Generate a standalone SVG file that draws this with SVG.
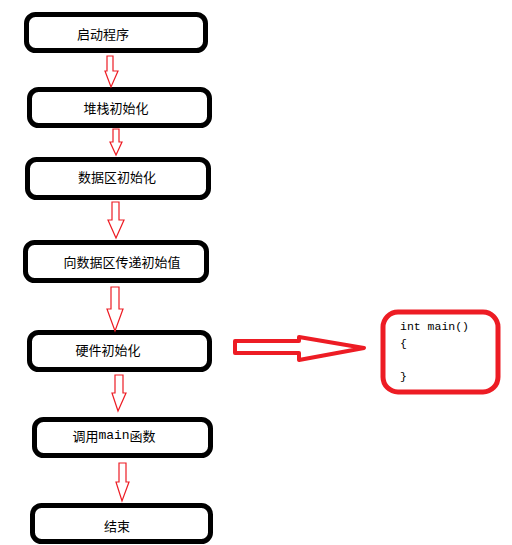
<svg xmlns="http://www.w3.org/2000/svg" width="512" height="545" viewBox="0 0 512 545">
<style>
.box{fill:#fff;stroke:#000;stroke-width:5}
.lbl{font-family:"Noto Sans CJK SC","Liberation Sans",sans-serif;font-size:13px;fill:#000;text-anchor:middle;dominant-baseline:central}
.mono{font-family:"Liberation Mono",monospace}
.arr{fill:#fff;stroke:#ED1C24;stroke-width:1.2;stroke-linejoin:miter}
.big{fill:#fff;stroke:#ED1C24;stroke-width:4;stroke-linejoin:round}
.code{font-family:"Liberation Mono",monospace;font-size:11.5px;fill:#000}
</style>
<rect width="512" height="545" fill="#fff"/>
<g id="n1"><rect class="box" x="26.5" y="14.5" width="179" height="36" rx="9"/><text class="lbl" x="103" y="33">启动程序</text></g>
<g id="n2"><rect class="box" x="29.5" y="89.5" width="180" height="36" rx="9"/><text class="lbl" x="116" y="107">堆栈初始化</text></g>
<g id="n3"><rect class="box" x="27.5" y="159.5" width="181" height="38" rx="9"/><text class="lbl" x="117" y="176">数据区初始化</text></g>
<g id="n4"><rect class="box" x="25.5" y="242.5" width="181" height="38" rx="9"/><text class="lbl" x="122" y="261">向数据区传递初始值</text></g>
<g id="n5"><rect class="box" x="29.5" y="332.5" width="180" height="37" rx="9"/><text class="lbl" x="108" y="349">硬件初始化</text></g>
<g id="n6"><rect class="box" x="34.5" y="419.5" width="176" height="36" rx="9"/><text class="lbl" x="114" y="435">调用<tspan class="mono">main</tspan>函数</text></g>
<g id="n7"><rect class="box" x="32.5" y="505.5" width="178" height="36" rx="9"/><text class="lbl" x="117" y="525">结束</text></g>
<g id="n8"><rect x="383" y="312" width="115" height="80" rx="15" fill="#fff" stroke="#ED1C24" stroke-width="5"/>
<text class="code" x="400" y="330">int main()</text>
<text class="code" x="400" y="347">{</text>
<text class="code" x="400" y="380">}</text></g>
<g id="connectors">
<polygon class="arr" points="107,56 113,56 113,71 118,71 111,87 105,71 107,71"/>
<polygon class="arr" points="113,129 119,129 119,142 122,142 116,155 110,142 113,142"/>
<polygon class="arr" points="112,202 119,202 119,220 124,220 116,238 108,220 112,220"/>
<polygon class="arr" points="111,287 119,287 119,309 123,309 115,331 107,309 111,309"/>
<polygon class="arr" points="115,375 123,375 123,393 126,393 118,411 112,393 115,393"/>
<polygon class="arr" points="119,463 126,463 126,482 129,482 122,501 116,482 119,482"/>
<polygon class="big" points="235,341 299,341 299,337 364,348 299,360 299,353 235,353"/>
</g>
</svg>
